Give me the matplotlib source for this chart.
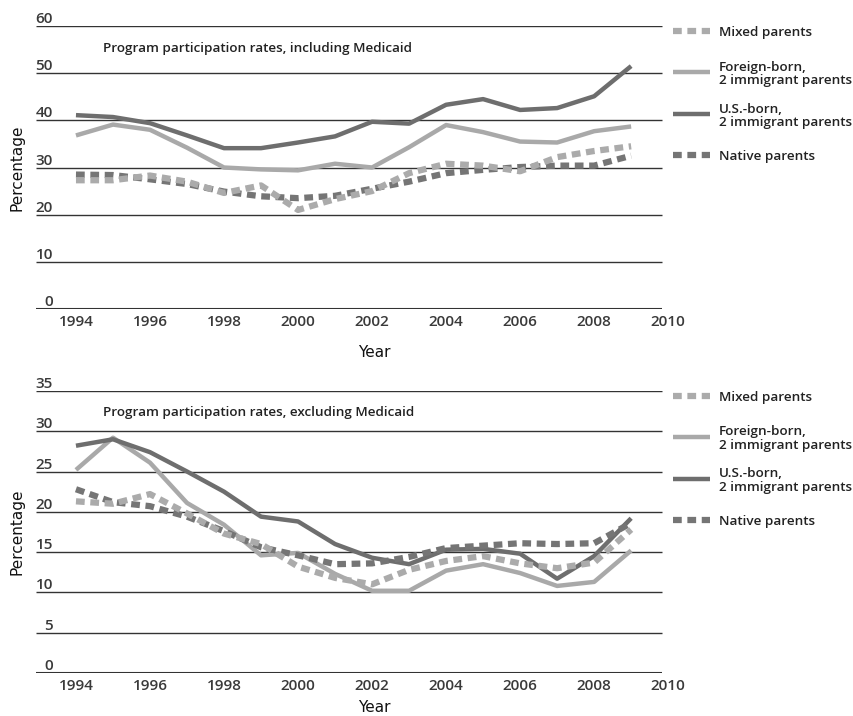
import matplotlib
matplotlib.use("Agg")
import matplotlib.pyplot as plt
from matplotlib.lines import Line2D

# ---- data ----
years = list(range(1994, 2010))
x_ticks = list(range(1994, 2011, 2))

# top panel: including Medicaid
us_born_incl = [41.1, 40.7, 39.4, 36.8, 34.1, 34.1, 35.3, 36.6, 39.7, 39.3, 43.3, 44.5, 42.2, 42.6, 45.1, 51.5]
foreign_incl = [36.8, 39.1, 38.0, 34.2, 30.0, 29.6, 29.4, 30.8, 30.0, 34.3, 39.0, 37.5, 35.5, 35.3, 37.7, 38.7]
mixed_incl = [27.3, 27.3, 28.3, 27.0, 24.6, 26.2, 21.0, 23.3, 25.0, 28.8, 30.8, 30.4, 29.2, 32.2, 33.5, 34.5]
native_incl = [28.5, 28.4, 27.5, 26.5, 24.9, 23.9, 23.5, 24.0, 25.5, 27.0, 28.8, 29.5, 30.1, 30.4, 30.4, 32.5]
y_ticks_incl = [0, 10, 20, 30, 40, 50, 60]

# bottom panel: excluding Medicaid
us_born_excl = [28.2, 29.0, 27.4, 25.0, 22.5, 19.4, 18.8, 16.0, 14.3, 13.5, 15.3, 15.4, 14.8, 11.7, 14.5, 19.2]
foreign_excl = [25.2, 29.2, 26.1, 21.1, 18.4, 14.6, 14.9, 12.3, 10.2, 10.2, 12.7, 13.5, 12.4, 10.8, 11.3, 15.2]
mixed_excl = [21.3, 21.0, 22.2, 19.8, 17.3, 16.0, 13.2, 11.8, 11.0, 12.8, 13.9, 14.5, 13.6, 13.0, 13.7, 17.8]
native_excl = [22.8, 21.2, 20.7, 19.4, 17.6, 15.6, 14.6, 13.5, 13.6, 14.4, 15.5, 15.8, 16.1, 16.0, 16.1, 18.6]
y_ticks_excl = [0, 5, 10, 15, 20, 25, 30, 35]

labels = ["Mixed parents", "Foreign-born,\n2 immigrant parents",
          "U.S.-born,\n2 immigrant parents", "Native parents"]

# ---- styles ----
DASH = (0, (1.4, 0.9))
STYLES = {
    "Mixed parents": dict(color="#ababab", lw=4.5, ls=DASH, dash_capstyle="butt"),
    "Foreign-born,\n2 immigrant parents": dict(color="#a9a9a9", lw=3.2, ls="-", solid_capstyle="butt"),
    "U.S.-born,\n2 immigrant parents": dict(color="#6e6e6e", lw=3.2, ls="-", solid_capstyle="butt"),
    "Native parents": dict(color="#757575", lw=4.5, ls=DASH, dash_capstyle="butt"),
}
TEXT_COLOR = "#3a3a3a"
LABEL_FONT = dict(family=["Open Sans", "DejaVu Sans"], weight="semibold")
XMIN, XMAX = 1992.92, 2010.32
GRID_END = 2009.84


def draw_panel(ax, series, y_ticks, title, year_label_y):
    # horizontal rules stop short of the 2010 label
    for v in y_ticks:
        ax.hlines(v, XMIN, GRID_END, colors="#333333",
                  lw=1.5 if v == 0 else 1.0, zorder=1)
        ax.text(0.0264, v, str(v), transform=ax.get_yaxis_transform(),
                ha="right", va="bottom", fontsize=11, color=TEXT_COLOR, **LABEL_FONT)

    for name in ["Foreign-born,\n2 immigrant parents", "U.S.-born,\n2 immigrant parents",
                 "Native parents", "Mixed parents"]:
        ax.plot(years, series[name], zorder=3, **STYLES[name])

    ax.set_xlim(XMIN, XMAX)
    ax.set_ylim(y_ticks[0], y_ticks[-1])
    ax.set_xticks(x_ticks)
    ax.set_xticklabels([str(t) for t in x_ticks], fontsize=11, color=TEXT_COLOR, **LABEL_FONT)
    ax.tick_params(axis="x", length=0, pad=4)
    ax.set_yticks([])
    for s in ax.spines.values():
        s.set_visible(False)

    ax.set_xlabel("Year", fontsize=11, color="#111111", va="center")
    ax.xaxis.set_label_coords(0.526, year_label_y)
    ax.set_ylabel("Percentage", fontsize=11, color="#111111", va="center")
    ax.yaxis.set_label_coords(-0.0295, 0.5)

    ax.text(0.104, 0.922, title, transform=ax.transAxes, fontsize=9.7,
            color="#222222", va="center", ha="left", **LABEL_FONT)

    # legend drawn by hand so the key sits on the first text line
    for name, ypos in zip(labels, [0.982, 0.837, 0.689, 0.544]):
        st = dict(STYLES[name])
        ax.add_line(Line2D([0.989, 1.0466], [ypos, ypos], transform=ax.transAxes,
                           clip_on=False, **st))
        ax.text(1.0606, ypos, name, transform=ax.transAxes, fontsize=9.7,
                color="#222222", va="center_baseline", ha="left", linespacing=1.05,
                **LABEL_FONT)


fig = plt.figure(figsize=(8.54, 7.16), dpi=100)
ax_top = fig.add_axes([0.04215, 0.5684, 0.7541, 0.3953])
ax_bot = fig.add_axes([0.04215, 0.0601, 0.7541, 0.3939])

draw_panel(ax_top, {
    "Mixed parents": mixed_incl,
    "Foreign-born,\n2 immigrant parents": foreign_incl,
    "U.S.-born,\n2 immigrant parents": us_born_incl,
    "Native parents": native_incl,
}, y_ticks_incl, "Program participation rates, including Medicaid", -0.152)

draw_panel(ax_bot, {
    "Mixed parents": mixed_excl,
    "Foreign-born,\n2 immigrant parents": foreign_excl,
    "U.S.-born,\n2 immigrant parents": us_born_excl,
    "Native parents": native_excl,
}, y_ticks_excl, "Program participation rates, excluding Medicaid", -0.124)

fig.savefig("out.png", dpi=100)
